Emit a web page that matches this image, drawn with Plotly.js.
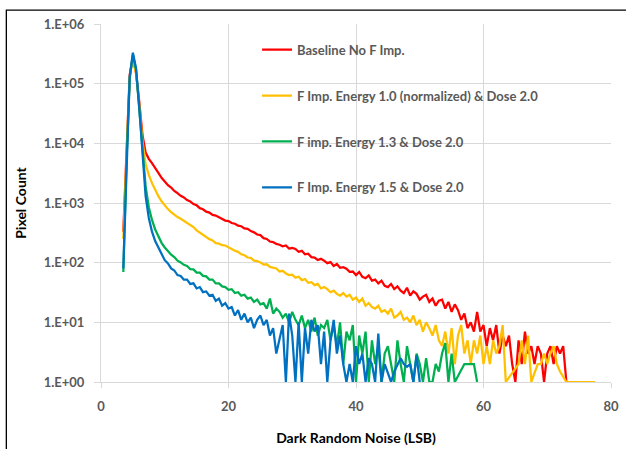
<!DOCTYPE html>
<html><head><meta charset="utf-8">
<script src="https://cdn.plot.ly/plotly-3.0.1.min.js"></script>
<style>html,body{margin:0;padding:0;background:#fff;}#chart{width:626px;height:449px;}</style>
</head><body><div id="chart"></div>
<script>
// Dark random noise bins (LSB)
const noiseLSB = [
 3.5,4,4.5,5,5.5,6,6.5,7,7.5,8,
 8.5,9,9.5,10,10.5,11,11.5,12,12.5,13,
 13.5,14,14.5,15,15.5,16,16.5,17,17.5,18,
 18.5,19,19.5,20,20.5,21,21.5,22,22.5,23,
 23.5,24,24.5,25,25.5,26,26.5,27,27.5,28,
 28.5,29,29.5,30,30.5,31,31.5,32,32.5,33,
 33.5,34,34.5,35,35.5,36,36.5,37,37.5,38,
 38.5,39,39.5,40,40.5,41,41.5,42,42.5,43,
 43.5,44,44.5,45,45.5,46,46.5,47,47.5,48,
 48.5,49,49.5,50,50.5,51,51.5,52,52.5,53,
 53.5,54,54.5,55,55.5,56,56.5,57,57.5,58,
 58.5,59,59.5,60,60.5,61,61.5,62,62.5,63,
 63.5,64,64.5,65,65.5,66,66.5,67,67.5,68,
 68.5,69,69.5,70,70.5,71,71.5,72,72.5,73,
 73.5,74,74.5,75,75.5,76,76.5,77,77.5
];

const seriesNames = [
 'Baseline No F Imp.',
 'F Imp. Energy 1.0 (normalized) & Dose 2.0',
 'F imp. Energy 1.3 & Dose 2.0',
 'F Imp. Energy 1.5 & Dose 2.0'
];
const seriesColors = ['#FF0000', '#FFC000', '#00B050', '#0070C0'];

const baselineCounts = [
 330,8000,140000,275000,150000,50000,14000,7000,5500,4650,
 3750,3200,2650,2300,1990,1820,1590,1460,1320,1240,
 1120,1060,960,915,820,785,715,690,630,615,
 575,548,508,498,462,450,418,408,376,370,
 338,322,296,290,258,250,226,221,206,200,
 188,194,172,176,170,152,158,138,141,124,
 122,111,116,108,98,102,88,95,82,84,
 79,70,71,62,70,58,55,61,50,52,
 45,50,41,39,44,36,40,34,31,38,
 28,33,30,24,27,29,22,25,19,23,
 24,17,22,15,20,16,11,14,8,10,
 7,15,7,9,4,8,5,9,3,6,
 4,6,2,1,5,2,7,3,4,2,
 4,3,1,3,4,2,4,3,4,1
];

const energy10Counts = [
 250,7000,130000,270000,150000,45000,11000,4500,2950,2150,
 1650,1300,1070,900,790,700,635,580,545,500,
 475,425,395,348,318,290,272,248,236,212,
 208,196,194,180,172,158,152,138,133,122,
 120,108,106,101,93,94,85,82,80,71,
 73,66,62,63,56,58,51,53,46,47,
 42,44,37,39,36,32,34,30,28,31,
 27,29,24,26,22,25,19,21,18,17,
 19,15,16,14,17,12,13,15,11,12,
 10,13,9,11,7,10,8,6,9,5,
 4,7,3,8,2,6,9,3,5,2,
 5,3,6,2,4,2,5,3,4,9,
 1,null,null,null,2,5,2,6,1,null,
 2,2,3,2,3,4,2,1.5,1.2,1,
 1,1,1,1,1,1,1,1,1
];

const energy13Counts = [
 70,5000,120000,310000,170000,40000,8000,1900,850,520,
 360,270,215,180,157,136,124,108,101,92,
 88,78,77,68,68,60,59,52,52,45,
 45,40,39,35,36,31,32,28,29,25,
 26,22,24,20,21,17,25,14,17,15,
 12,14,10,15,11,9,13,8,11,7,
 12,6,9,8,11,5,9,4,10,2,
 7,5,9,1,6,3,7,1,5,2,
 4,1,3,4,2,1,5,2,1,4,
 2,1,3,2,1,2.5,1,1,2,1.5,
 3,4.5,1,3,1,null,null,2,2,2,
 2,1
];

const energy15Counts = [
 80,5000,130000,330000,180000,40000,8000,1300,560,330,
 230,180,140,110,97,80,74,62,60,52,
 52,44,45,37,39,32,33,28,29,23,
 25,19,21,17,18,13,16,11,14,10,
 12,8,11,13,9,11,6,8,3,5,
 9,1,14,6,1,10,1,8,3,11,
 7,9,2,7,1,5,11,3,6,2,
 1,2,1,4,2,3,1,2.5,2,1,
 6.5,1,2,null,1,1.5,null,2.5,2,1.8,
 2,1,2.8,1
];

const yTickVals = [1, 10, 100, 1000, 10000, 100000, 1000000];
const yTickText = ['1.E+00','1.E+01','1.E+02','1.E+03','1.E+04','1.E+05','1.E+06'];
const xTickVals = [0, 20, 40, 60, 80];

const allCounts = [baselineCounts, energy10Counts, energy13Counts, energy15Counts];
const traces = allCounts.map((c, i) => ({
  type: 'scatter', mode: 'lines',
  x: noiseLSB.slice(0, c.length), y: c,
  name: seriesNames[i], legendgroup: 'g' + i,
  connectgaps: true,
  line: {color: seriesColors[i], width: 2.25}
}));

const tickFont = {family: 'Lato, "Liberation Sans", sans-serif', size: 13, color: '#595959', weight: 'bold'};
const titleFont = {family: 'Lato, "Liberation Sans", sans-serif', size: 14, color: '#000000', weight: 'bold'};

const layout = {
  width: 626, height: 449,
  margin: {l: 101, r: 15, t: 24, b: 67},
  paper_bgcolor: '#ffffff', plot_bgcolor: '#ffffff',
  showlegend: true,
  xaxis: {
    range: [0, 80], tickvals: xTickVals, showgrid: true, gridcolor: '#D9D9D9', gridwidth: 1,
    zeroline: false, showline: true, linecolor: '#D9D9D9', linewidth: 1,
    ticks: 'outside', ticklen: 5, tickcolor: '#D9D9D9', tickfont: tickFont,
    ticklabelstandoff: 7,
    title: {text: 'Dark Random Noise (LSB)', font: titleFont, standoff: 20}
  },
  yaxis: {
    type: 'log', range: [0, 6], tickvals: yTickVals, ticktext: yTickText,
    showgrid: true, gridcolor: '#D9D9D9', gridwidth: 1,
    zeroline: false, showline: true, linecolor: '#D9D9D9', linewidth: 1,
    ticks: 'outside', ticklen: 6, tickcolor: '#D9D9D9', tickfont: tickFont,
    ticklabelstandoff: 7,
    title: {text: 'Pixel Count', font: titleFont, standoff: 13}
  },
  legend: {
    x: 0.306, xanchor: 'left', y: 0.97, yanchor: 'top',
    bgcolor: 'rgba(0,0,0,0)', borderwidth: 0,
    font: {family: 'Lato, "Liberation Sans", sans-serif', size: 13, color: '#595959', weight: 'bold'},
    tracegroupgap: 26, itemwidth: 30, traceorder: 'grouped'
  },
  shapes: [{
    type: 'rect', xref: 'paper', yref: 'paper',
    x0: -0.1856, x1: 1.3, y0: -0.5, y1: 1.039,
    line: {color: '#000000', width: 1.3}, fillcolor: 'rgba(0,0,0,0)', layer: 'below'
  }]
};

Plotly.newPlot('chart', traces, layout, {displayModeBar: false, staticPlot: true});
</script>
</body></html>
